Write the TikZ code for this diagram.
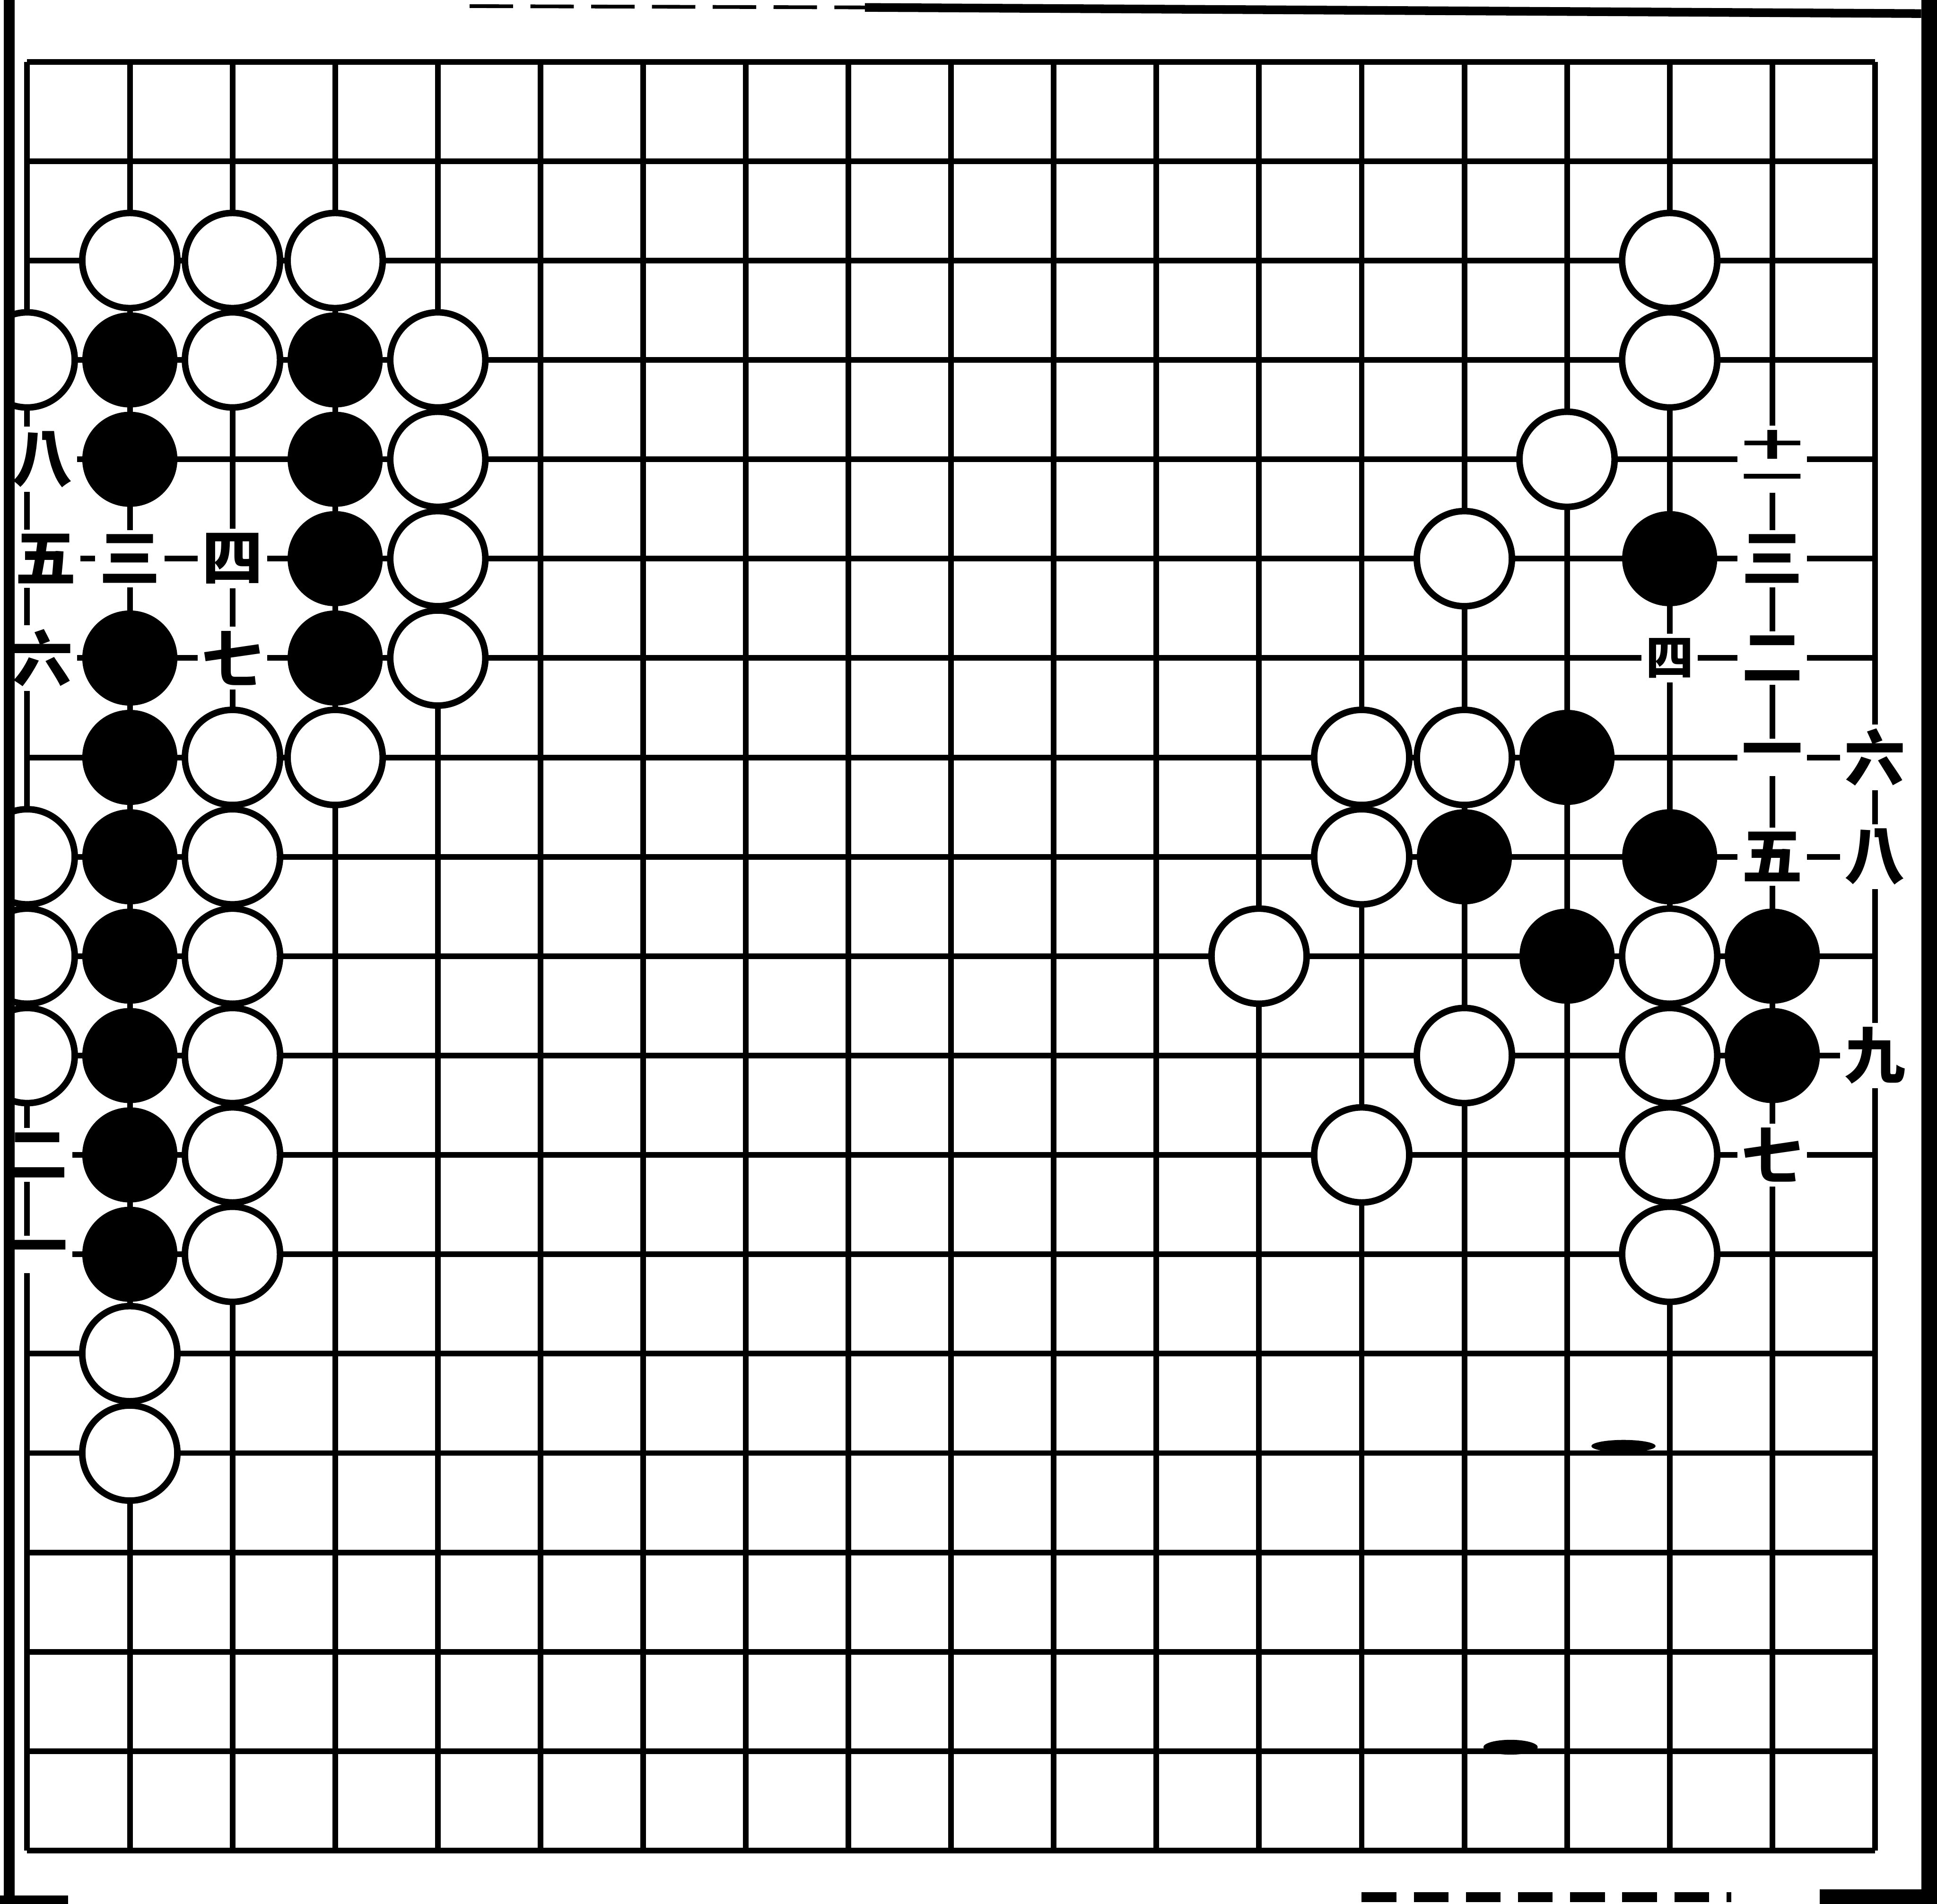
\documentclass[tikz,border=0pt]{standalone}
\usepackage{fontspec}
\usepackage{graphicx}
\usepackage{tikz}
\newfontfamily\cjk{Noto Sans CJK TC}

\begin{document}
\begin{tikzpicture}[x=0.831cm, y=-0.8044cm,
        gridline/.style={line width=1.3pt},
        wstone/.style={draw, circle, line width=1.5pt, fill=white, minimum size=0.77cm, inner sep=0pt},
        bstone/.style={circle, fill=black, minimum size=0.77cm, inner sep=0pt},
        numeral/.style={fill=white, inner sep=1pt, font=\cjk\bfseries\fontsize{14}{14}\selectfont},
        smallnum/.style={numeral, font=\cjk\bfseries\fontsize{11}{11}\selectfont}]
        \useasboundingbox (-0.2647,-0.6216) rectangle (18.604,18.536);

        % board lines
        \foreach \i in {0,...,18} {
            \draw[gridline] (\i,0) -- (\i,18);
            \draw[gridline] (0,\i) -- (18,\i);
        }

        % left group, white
        \node (w1)  at (1, 2)  [wstone] {};
        \node (w2)  at (2, 2)  [wstone] {};
        \node (w3)  at (3, 2)  [wstone] {};
        \node (w4)  at (0, 3)  [wstone] {};
        \node (w5)  at (2, 3)  [wstone] {};
        \node (w6)  at (4, 3)  [wstone] {};
        \node (w7)  at (4, 4)  [wstone] {};
        \node (w8)  at (4, 5)  [wstone] {};
        \node (w9)  at (4, 6)  [wstone] {};
        \node (w10) at (2, 7)  [wstone] {};
        \node (w11) at (3, 7)  [wstone] {};
        \node (w12) at (0, 8)  [wstone] {};
        \node (w13) at (2, 8)  [wstone] {};
        \node (w14) at (0, 9)  [wstone] {};
        \node (w15) at (2, 9)  [wstone] {};
        \node (w16) at (0, 10) [wstone] {};
        \node (w17) at (2, 10) [wstone] {};
        \node (w18) at (2, 11) [wstone] {};
        \node (w19) at (2, 12) [wstone] {};
        \node (w20) at (1, 13) [wstone] {};
        \node (w21) at (1, 14) [wstone] {};

        % left group, black
        \node (b1)  at (1, 3)  [bstone] {};
        \node (b2)  at (3, 3)  [bstone] {};
        \node (b3)  at (1, 4)  [bstone] {};
        \node (b4)  at (3, 4)  [bstone] {};
        \node (b5)  at (3, 5)  [bstone] {};
        \node (b6)  at (1, 6)  [bstone] {};
        \node (b7)  at (3, 6)  [bstone] {};
        \node (b8)  at (1, 7)  [bstone] {};
        \node (b9)  at (1, 8)  [bstone] {};
        \node (b10) at (1, 9)  [bstone] {};
        \node (b11) at (1, 10) [bstone] {};
        \node (b12) at (1, 11) [bstone] {};
        \node (b13) at (1, 12) [bstone] {};

        % right group, white
        \node (w22) at (16, 2)  [wstone] {};
        \node (w23) at (16, 3)  [wstone] {};
        \node (w24) at (15, 4)  [wstone] {};
        \node (w25) at (14, 5)  [wstone] {};
        \node (w26) at (13, 7)  [wstone] {};
        \node (w27) at (14, 7)  [wstone] {};
        \node (w28) at (13, 8)  [wstone] {};
        \node (w29) at (12, 9)  [wstone] {};
        \node (w30) at (16, 9)  [wstone] {};
        \node (w31) at (14, 10) [wstone] {};
        \node (w32) at (16, 10) [wstone] {};
        \node (w33) at (13, 11) [wstone] {};
        \node (w34) at (16, 11) [wstone] {};
        \node (w35) at (16, 12) [wstone] {};

        % right group, black
        \node (b14) at (16, 5)  [bstone] {};
        \node (b15) at (15, 7)  [bstone] {};
        \node (b16) at (14, 8)  [bstone] {};
        \node (b17) at (16, 8)  [bstone] {};
        \node (b18) at (15, 9)  [bstone] {};
        \node (b19) at (17, 9)  [bstone] {};
        \node (b20) at (17, 10) [bstone] {};

        % move numbers, left
        \node (t1)  at (0.15, 4)  [numeral] {八};
        \node (t2)  at (0.18, 5)  [numeral] {五};
        \node (t3)  at (1, 5)     [numeral] {三};
        \node (t4)  at (2, 5)     [numeral] {四};
        \node (t5)  at (0.15, 6)  [numeral] {六};
        \node (t6)  at (2, 6)     [numeral] {七};
        \node (t7)  at (0.1, 11)  [numeral] {二};
        \node (t8)  at (0.1, 12)  [numeral] {一};

        % move numbers, right
        \node (t9)  at (17, 4)  [numeral] {\scalebox{1}[0.5]{\shortstack{十\\[4pt]一}}};
        \node (t10) at (17, 5)  [numeral] {三};
        \node (t11) at (16, 6)  [smallnum] {四};
        \node (t12) at (17, 6)  [numeral] {二};
        \node (t13) at (17, 7)  [numeral] {一};
        \node (t14) at (18, 7)  [numeral] {六};
        \node (t15) at (17, 8)  [numeral] {五};
        \node (t16) at (18, 8)  [numeral] {八};
        \node (t17) at (18, 10) [numeral] {九};
        \node (t18) at (17, 11) [numeral] {七};

        % ink blots on the block
        \fill (15.55,13.93) ellipse [x radius=0.26cm, y radius=0.05cm];
        \fill (14.45,16.96) ellipse [x radius=0.22cm, y radius=0.06cm];

        % page edges of the scan
        \fill[white] (-0.2647,-0.6216) rectangle (-0.2286,18.536);
        \fill (-0.2286,-0.6216) rectangle (-0.1203,18.536);
        \fill (18.45,-0.6216) rectangle (18.604,18.536);
        \draw[line width=0.03cm, dash pattern=on 10pt off 4pt] (4.31,-0.56) -- (8.16,-0.547);
        \draw[line width=0.07cm] (8.16,-0.547) -- (18.45,-0.485);
        \fill (17.46,18.39) rectangle (18.604,18.536);
        \draw[line width=0.08cm, dash pattern=on 8pt off 4pt] (13.0,18.47) -- (16.6,18.47);
        \fill (-0.2647,18.45) rectangle (0.4,18.536);
    \end{tikzpicture}
\end{document}
